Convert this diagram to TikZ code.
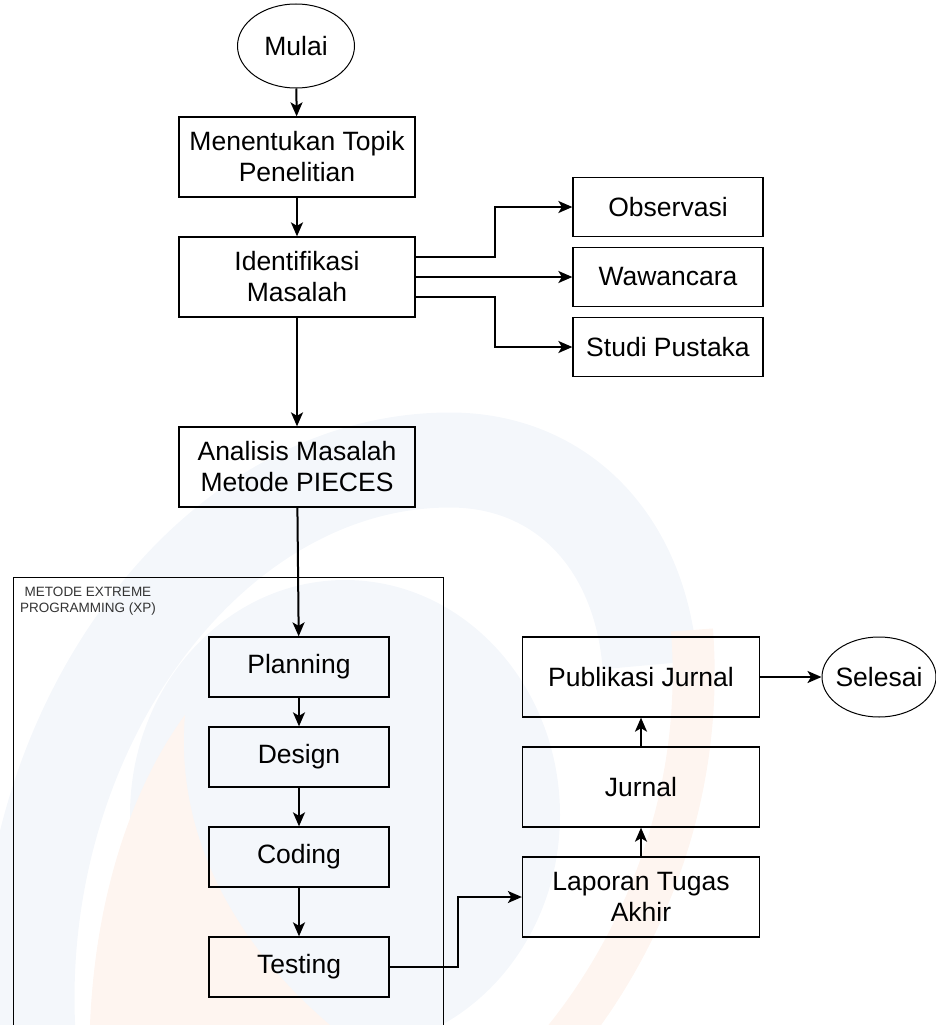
\documentclass[tikz,border=0pt]{standalone}
\usepackage{fontspec}
\setmainfont{Liberation Sans}
\usetikzlibrary{arrows.meta,shapes.geometric}
\definecolor{wmblue}{RGB}{244,247,251}
\definecolor{wmorange}{RGB}{254,245,240}
\begin{document}
\begin{tikzpicture}[x=1pt,y=-1pt,
  box/.style={draw=black,line width=1.3pt,rectangle,inner sep=0pt,align=center,font=\fontsize{26.5}{31}\selectfont},
  term/.style={draw=black,line width=1pt,ellipse,inner sep=0pt,font=\fontsize{26.5}{31}\selectfont},
  arr/.style={-{Stealth[length=14pt,width=12pt,inset=3.5pt]},line width=2pt},
  wide/.style={box,minimum width=236pt,minimum height=80pt},
  side/.style={box,minimum width=190pt,minimum height=59pt},
  xp/.style={box,minimum width=180pt,minimum height=60pt},
  outbox/.style={box,minimum width=237pt,minimum height=80pt},
]
\useasboundingbox (0,0) rectangle (936,1025);
% faint watermark
\draw[wmblue,line width=95pt] (30,1060) .. controls (0,750) and (200,460) .. (450,460) .. controls (560,460) and (640,540) .. (650,665);
\fill[wmblue] (345,815) ellipse[x radius=215,y radius=235];
\draw[wmorange,line width=42pt] (692,630) .. controls (705,800) and (640,950) .. (555,1050);
\fill[wmorange] (90,1025) .. controls (95,900) and (130,790) .. (185,715) .. controls (175,830) and (230,940) .. (330,1025) -- cycle;
% nodes
\node[term,minimum width=117pt,minimum height=84pt] (mulai) at (296,46) {Mulai};
\node[wide] (topik) at (297,157) {Menentukan Topik\\Penelitian};
\node[wide] (ident) at (297,277) {Identifikasi\\Masalah};
\node[side] (obs) at (668,207) {Observasi};
\node[side] (waw) at (668,277) {Wawancara};
\node[side] (studi) at (668,347) {Studi Pustaka};
\node[wide] (anal) at (297,467) {Analisis Masalah\\Metode PIECES};
\draw[line width=1pt] (13,1030) -- (13,577) -- (443,577) -- (443,1030);
\node[align=center,font=\fontsize{13.5}{16}\selectfont,text=black!80] (xptitle) at (88,601) {METODE EXTREME\\PROGRAMMING (XP)};
\node[xp] (plan) at (299,667) {Planning};
\node[xp] (design) at (299,757) {Design};
\node[xp] (coding) at (299,857) {Coding};
\node[xp] (testing) at (299,967) {Testing};
\node[outbox] (lapor) at (641,897) {Laporan Tugas\\Akhir};
\node[outbox] (jurnal) at (641,787) {Jurnal};
\node[outbox] (publik) at (641,677) {Publikasi Jurnal};
\node[term,minimum width=114pt,minimum height=80pt] (selesai) at (879,677) {\makebox[0pt]{Selesai}};
% connectors
\draw[arr] (mulai) -- (topik);
\draw[arr] (topik) -- (ident);
\draw[arr] ([yshift=20pt]ident.east) -- ++(79,0) |- (obs.west);
\draw[arr] (ident.east) -- (waw.west);
\draw[arr] ([yshift=-20pt]ident.east) -- ++(79,0) |- (studi.west);
\draw[arr] (ident) -- (anal);
\draw[arr] (anal) -- (plan);
\draw[arr] (plan) -- (design);
\draw[arr] (design) -- (coding);
\draw[arr] (coding) -- (testing);
\draw[arr] (testing.east) -- ++(68,0) |- (lapor.west);
\draw[arr] (lapor) -- (jurnal);
\draw[arr] (jurnal) -- (publik);
\draw[arr] (publik) -- (selesai);
\end{tikzpicture}
\end{document}
